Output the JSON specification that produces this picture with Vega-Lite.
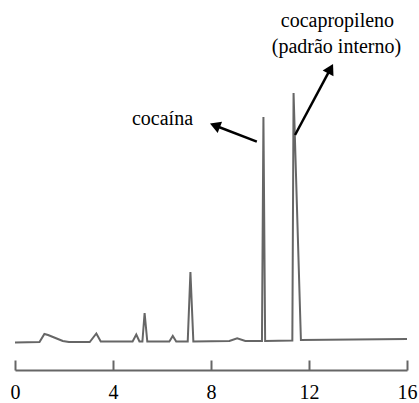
{
  "$schema": "https://vega.github.io/schema/vega-lite/v6.json",
  "width": 392,
  "height": 370,
  "padding": {"left": 15, "right": 12, "top": 0, "bottom": 33},
  "autosize": {"type": "none"},
  "config": {"view": {"stroke": null}, "font": "Liberation Serif"},
  "datasets": {
    "signal": [
      {"t": 0, "v": -0.5}, {"t": 1.0, "v": 0}, {"t": 1.2, "v": 8}, {"t": 1.35, "v": 7},
      {"t": 1.6, "v": 4.5}, {"t": 1.95, "v": 1}, {"t": 2.2, "v": 0}, {"t": 3.05, "v": 0},
      {"t": 3.32, "v": 8.5}, {"t": 3.5, "v": 0.5}, {"t": 4.8, "v": 0.5}, {"t": 4.95, "v": 7.5},
      {"t": 5.08, "v": 0.5}, {"t": 5.2, "v": 0.5}, {"t": 5.29, "v": 29}, {"t": 5.4, "v": 0.5},
      {"t": 6.3, "v": 0.5}, {"t": 6.44, "v": 6}, {"t": 6.58, "v": 0.5}, {"t": 7.05, "v": 0.5},
      {"t": 7.16, "v": 70}, {"t": 7.28, "v": 0.5}, {"t": 8.75, "v": 1}, {"t": 9.07, "v": 3.7},
      {"t": 9.4, "v": 1}, {"t": 10.08, "v": 1}, {"t": 10.14, "v": 225}, {"t": 10.21, "v": 1},
      {"t": 11.32, "v": 1.5}, {"t": 11.37, "v": 249}, {"t": 11.67, "v": 2}, {"t": 16, "v": 3}
    ],
    "arrows": [
      {"name": "cocaina", "t": 9.87, "v": 200.3, "t2": 8.16, "v2": 216.5},
      {"name": "cocapropileno", "t": 11.43, "v": 207, "t2": 12.88, "v2": 273.4}
    ],
    "labels": [
      {"t": 6.02, "v": 217, "label": "cocaína"},
      {"t": 13.16, "v": 315, "label": "cocapropileno"},
      {"t": 13.12, "v": 289, "label": "(padrão interno)"}
    ]
  },
  "layer": [
    {
      "data": {"name": "signal"},
      "mark": {"type": "line", "color": "#666666", "strokeWidth": 2, "interpolate": "linear"},
      "encoding": {
        "x": {
          "field": "t", "type": "quantitative",
          "scale": {"domain": [0, 16], "nice": false, "zero": false},
          "axis": {
            "values": [0, 4, 8, 12, 16], "title": null, "grid": false,
            "domainColor": "#666666", "domainWidth": 2,
            "tickColor": "#666666", "tickWidth": 2, "tickSize": -10,
            "labelFont": "Liberation Serif", "labelFontSize": 20, "labelColor": "#000000",
            "labelPadding": 22, "labelFlush": false
          }
        },
        "y": {
          "field": "v", "type": "quantitative",
          "scale": {"domain": [-28, 342], "nice": false, "zero": false},
          "axis": null
        }
      }
    },
    {
      "data": {"name": "arrows"},
      "mark": {"type": "rule", "color": "#000000", "strokeWidth": 2.5},
      "encoding": {
        "x": {"field": "t", "type": "quantitative"},
        "y": {"field": "v", "type": "quantitative"},
        "x2": {"field": "t2"},
        "y2": {"field": "v2"}
      }
    },
    {
      "data": {"name": "arrows"},
      "transform": [{"filter": "datum.name === 'cocaina'"}],
      "mark": {"type": "point", "shape": "triangle-up", "filled": true, "color": "#000000", "opacity": 1, "size": 150, "angle": 291},
      "encoding": {
        "x": {"field": "t2", "type": "quantitative"},
        "y": {"field": "v2", "type": "quantitative"}
      }
    },
    {
      "data": {"name": "arrows"},
      "transform": [{"filter": "datum.name === 'cocapropileno'"}],
      "mark": {"type": "point", "shape": "triangle-up", "filled": true, "color": "#000000", "opacity": 1, "size": 150, "angle": 28},
      "encoding": {
        "x": {"field": "t2", "type": "quantitative"},
        "y": {"field": "v2", "type": "quantitative"}
      }
    },
    {
      "data": {"name": "labels"},
      "mark": {"type": "text", "font": "Liberation Serif", "fontSize": 20, "color": "#000000", "align": "center", "baseline": "alphabetic"},
      "encoding": {
        "x": {"field": "t", "type": "quantitative"},
        "y": {"field": "v", "type": "quantitative"},
        "text": {"field": "label"}
      }
    }
  ]
}
